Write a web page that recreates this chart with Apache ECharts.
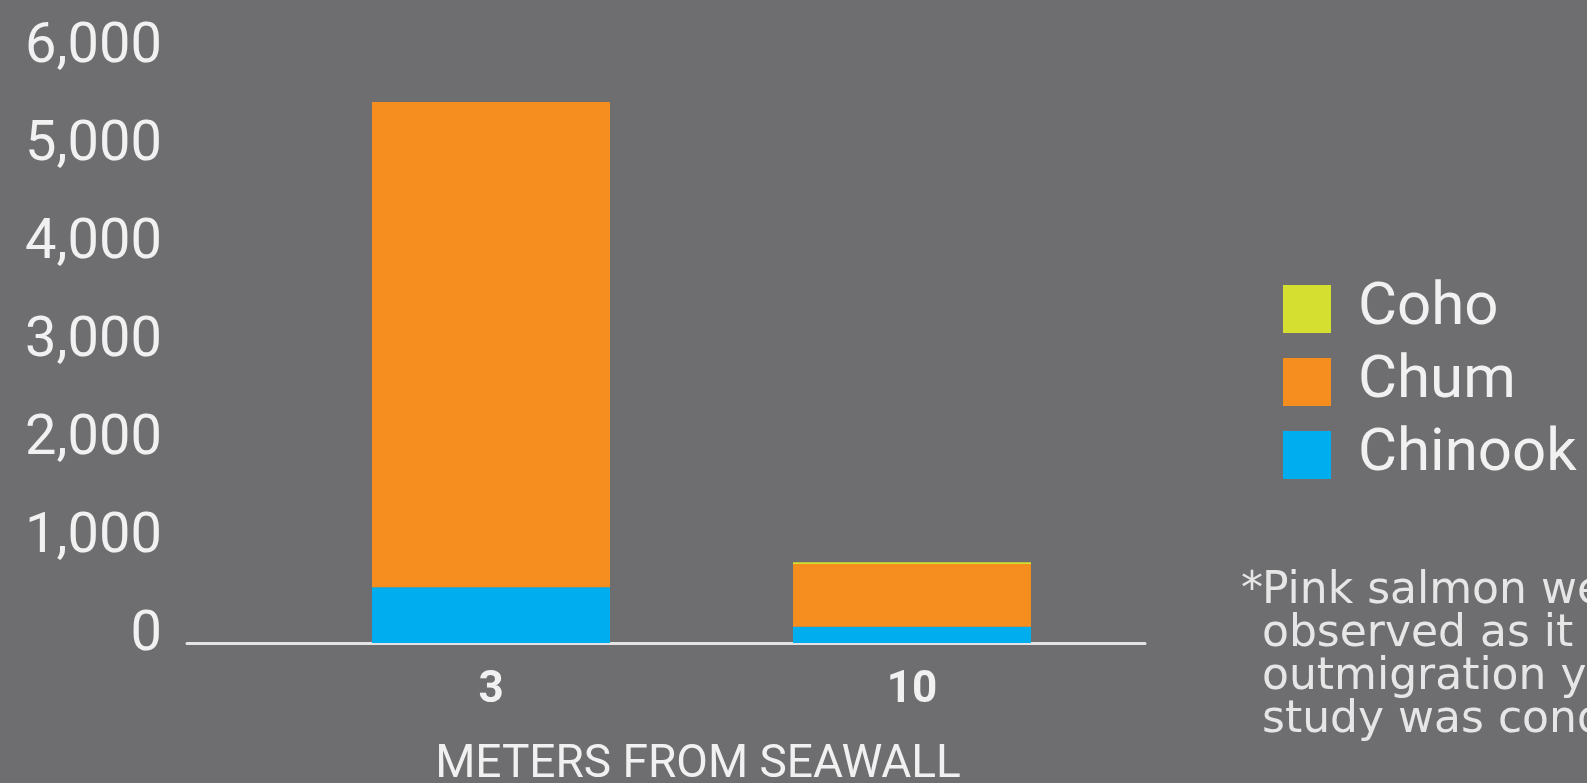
<!DOCTYPE html>
<html>
<head>
<meta charset="utf-8">
<script src="https://cdn.jsdelivr.net/npm/echarts@6/dist/echarts.min.js"></script>
<style>
  html, body { margin: 0; padding: 0; background: #6e6e71; }
  #chart { width: 1587px; height: 783px; }
</style>
</head>
<body>
<div id="chart"></div>
<script>
// distance from seawall (m) and fish counts per species
const distances = ['3', '10']
const chinook = [570, 165]
const chum = [4950, 640]
const coho = [0, 20]
const yTicks = [0, 1000, 2000, 3000, 4000, 5000, 6000]
const legendNames = ['Coho', 'Chum', 'Chinook']
const footnoteMark = '*'
const footnote = [
  'Pink salmon were not',
  'observed as it was not an',
  'outmigration year when the',
  'study was conducted.',
]

const colors = { Coho: '#d5df2f', Chum: '#f68e1f', Chinook: '#00aeef' }
const textColor = '#f1f1f1'
const font = 'Roboto, "Noto Sans", sans-serif'
const noteFont = '"DejaVu Sans", sans-serif'
const yMin = yTicks[0]
const yMax = yTicks[yTicks.length - 1]

const myChart = echarts.init(document.getElementById('chart'))

const series = [
  { name: 'Chinook', data: chinook },
  { name: 'Chum', data: chum },
  { name: 'Coho', data: coho },
].map((s) => ({
  name: s.name,
  type: 'bar',
  stack: 'fish',
  barWidth: 238,
  xAxisIndex: 0,
  yAxisIndex: 0,
  data: s.data,
  itemStyle: { color: colors[s.name] },
}))

const noteStyle = {
  color: '#e6e6e6',
  fontSize: 44,
  lineHeight: 43,
  fontWeight: 'normal',
  fontFamily: noteFont,
}

const option = {
  backgroundColor: '#6e6e71',
  animation: false,
  textStyle: { fontFamily: font },
  /* grid 0 holds the bars, grid 1 only carries the long baseline and y labels */
  grid: [
    { left: 280.5, right: 464.5, top: 55, bottom: 140 },
    { left: 187, right: 442, top: 55, bottom: 140 },
  ],
  title: [
    {
      text: 'METERS FROM SEAWALL',
      left: 693,
      top: 737,
      textAlign: 'center',
      textStyle: { color: textColor, fontSize: 46, fontWeight: 'normal', fontFamily: font },
    },
    // hanging asterisk, text lines start a little further right
    { text: footnoteMark, left: 1236, top: 565, textStyle: noteStyle },
    { text: footnote.join('\n'), left: 1257, top: 565, textStyle: noteStyle },
  ],
  legend: {
    data: legendNames,
    orient: 'vertical',
    left: 1278,
    top: 274,
    icon: 'rect',
    itemWidth: 48,
    itemHeight: 48,
    itemGap: 13,
    selectedMode: false,
    textStyle: { color: textColor, fontSize: 60, lineHeight: 48, padding: [0, 0, 0, 22], fontFamily: font },
  },
  xAxis: [
    {
      type: 'category',
      gridIndex: 0,
      data: distances,
      axisTick: { show: false },
      axisLine: { show: false },
      axisLabel: {
        margin: 26,
        color: textColor,
        fontSize: 44,
        fontWeight: 'bold',
        fontFamily: font,
      },
    },
    {
      type: 'value',
      gridIndex: 1,
      min: 0,
      max: 1,
      splitLine: { show: false },
      axisTick: { show: false },
      axisLabel: { show: false },
      axisLine: { show: true, onZero: false, lineStyle: { color: '#e4e4e4', width: 3 } },
    },
  ],
  yAxis: [
    {
      type: 'value',
      gridIndex: 0,
      min: yMin,
      max: yMax,
      interval: 1000,
      show: false,
    },
    {
      type: 'value',
      gridIndex: 1,
      min: yMin,
      max: yMax,
      interval: 1000,
      splitLine: { show: false },
      axisTick: { show: false },
      axisLine: { show: false },
      axisLabel: {
        margin: 25,
        color: textColor,
        fontSize: 56,
        lineHeight: 14,
        fontFamily: font,
        verticalAlign: 'bottom',
        formatter: (v) => v.toLocaleString('en-US'),
      },
    },
  ],
  series: series,
}

myChart.setOption(option)
</script>
</body>
</html>
